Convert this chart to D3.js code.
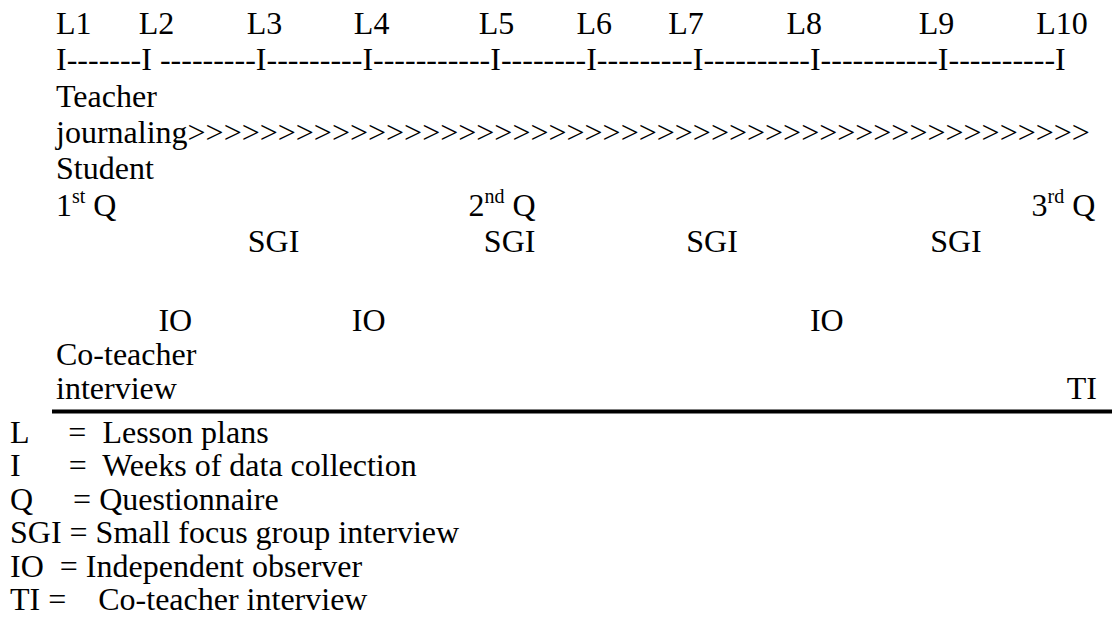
<!DOCTYPE html>
<html>
<head>
<meta charset="utf-8">
<script src="https://cdn.jsdelivr.net/npm/d3@7"></script>
</head>
<body style="margin:0;background:#fff">
<script>
// lessons and where they sit on the week line (in week units)
let lessons = ["L1", "L2", "L3", "L4", "L5", "L6", "L7", "L8", "L9", "L10"];
let lessonWeek = [1.0, 1.97, 2.92, 3.92, 4.91, 5.9, 6.77, 7.8, 8.85, 9.84];
let weeks = [1, 2, 3, 4, 5, 6, 7, 8, 9, 10];
let weekLine = "I-------I ---------I---------I-----------I--------I---------I----------I-----------I----------I";

let journalLabel = ["Teacher", "journaling"];
let journalEnd = 10.28;
let studentLabel = "Student";
let qNumber = ["1", "2", "3"];
let qSuffix = ["st", "nd", "rd"];
let qWeek = [1.0, 4.83, 9.8];
let sgiWeek = [2.93, 4.95, 6.94, 8.94];
let ioWeek = [2.15, 3.9, 8.0];
let coLabel = ["Co-teacher", "interview"];
let tiWeek = [10.1];

let legendLines = [
    "L     =  Lesson plans",
    "I      =  Weeks of data collection",
    "Q     = Questionnaire",
    "SGI = Small focus group interview",
    "IO  = Independent observer",
    "TI =    Co-teacher interview"
];

let FONT = 'Liberation Serif';

// every text gets its font straight on the element
function serif(sel, size) {
    return sel
        .attr('font-family', FONT)
        .style('font-family', FONT)
        .attr('font-size', size || 32)
        .style('font-size', (size || 32) + 'px')
        .attr('fill', '#000')
        .attr('xml:space', 'preserve')
        .style('white-space', 'pre');
}

let svg = d3.select('body').append('svg')
    .attr('width', 1112)
    .attr('height', 630)
    .style('display', 'block');

let left = 56;
// text rows of the timeline block (row 7 is an empty line)
let row = d3.scaleLinear().domain([0, 6, 8, 10]).range([34, 252, 331, 399]);
let legendRow = d3.scaleLinear().domain([0, 5]).range([443, 610]);

// week line first, then read where each I landed
let wl = serif(svg.append('text'))
    .attr('x', left)
    .attr('y', row(1))
    .text(weekLine);
let iPos = [];
for (let k = 0; k < weekLine.length; k++) {
    if (weekLine[k] === 'I') iPos.push(wl.node().getStartPositionOfChar(k).x);
}
let x = d3.scaleLinear().domain(weeks).range(iPos);

serif(svg.selectAll('text.lesson')
    .data(lessons)
    .enter()
    .append('text')
    .attr('class', 'lesson'))
    .attr('x', (d, i) => x(lessonWeek[i]))
    .attr('y', row(0))
    .text(d => d);

serif(svg.append('text')).attr('x', left).attr('y', row(2)).text(journalLabel[0]);
let jt = serif(svg.append('text')).attr('x', left).attr('y', row(3)).text(journalLabel[1]);
let jw = jt.node().getComputedTextLength();
let probe = serif(svg.append('text')).text('>>>>>>>>>>');
let cw = probe.node().getComputedTextLength() / 10;
probe.remove();
let n = Math.round((x(journalEnd) - left - jw) / cw);
jt.text(journalLabel[1] + '>'.repeat(n));

serif(svg.append('text')).attr('x', left).attr('y', row(4)).text(studentLabel);

let q = serif(svg.selectAll('text.q')
    .data(qNumber)
    .enter()
    .append('text')
    .attr('class', 'q'))
    .attr('x', (d, i) => x(qWeek[i]))
    .attr('y', row(5));
q.append('tspan').text(d => d);
serif(q.append('tspan'), 20)
    .attr('dy', -13)
    .text((d, i) => qSuffix[i]);
serif(q.append('tspan'))
    .attr('dy', 13)
    .text(' Q');

serif(svg.selectAll('text.sgi')
    .data(sgiWeek)
    .enter()
    .append('text')
    .attr('class', 'sgi'))
    .attr('x', d => x(d))
    .attr('y', row(6))
    .text('SGI');

serif(svg.selectAll('text.io')
    .data(ioWeek)
    .enter()
    .append('text')
    .attr('class', 'io'))
    .attr('x', d => x(d))
    .attr('y', row(8))
    .text('IO');

serif(svg.append('text')).attr('x', left).attr('y', row(9)).text(coLabel[0]);
serif(svg.append('text')).attr('x', left).attr('y', row(10)).text(coLabel[1]);

serif(svg.selectAll('text.ti')
    .data(tiWeek)
    .enter()
    .append('text')
    .attr('class', 'ti'))
    .attr('x', d => x(d))
    .attr('y', row(10))
    .text('TI');

svg.append('line')
    .attr('x1', 52)
    .attr('x2', 1112)
    .attr('y1', 411.5)
    .attr('y2', 411.5)
    .attr('stroke', '#000')
    .attr('stroke-width', 4);

serif(svg.selectAll('text.legend')
    .data(legendLines)
    .enter()
    .append('text')
    .attr('class', 'legend'))
    .attr('x', 10)
    .attr('y', (d, i) => legendRow(i))
    .text(d => d);
</script>
</body>
</html>
